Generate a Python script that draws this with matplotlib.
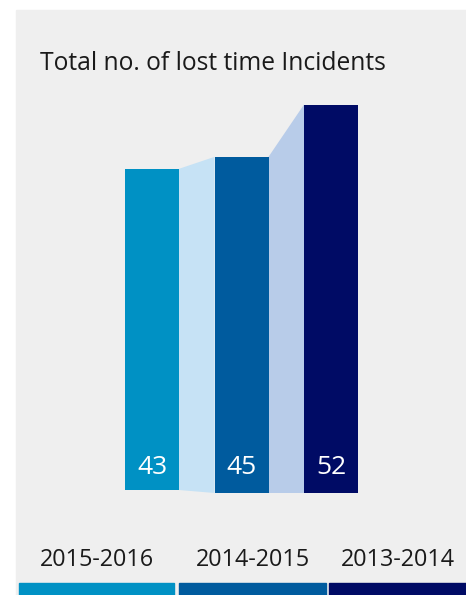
import matplotlib.pyplot as plt
from matplotlib.patches import Rectangle

# data
years = ["2015-2016", "2014-2015", "2013-2014"]
incidents = [43, 45, 52]
bases = [0.4, 0, 0]   # first bar sits a touch higher in the original

bar_colors = ["#0091c4", "#005b9e", "#000b65"]
link_colors = ["#c6e2f5", "#b8cce9"]
bg = "#efefef"

plt.rcParams['font.family'] = ['Open Sans', 'DejaVu Sans']

W, H = 466, 595
fig = plt.figure(figsize=(W / 100, H / 100), dpi=100)
fig.patch.set_facecolor("white")

# grey panel
fig.patches.append(Rectangle((16 / W, 0), 1, (H - 10) / H,
                             transform=fig.transFigure, color=bg, zorder=0))

# bar axes: centre of bar i at 152 + 89.5*i px, baseline at 493 px, 7.47 px per unit
step = 89.5
scale = 7.47
left_px = 152 - 0.5 * step
ymax = 55
ax = fig.add_axes([left_px / W, (H - 493) / H, 3 * step / W, ymax * scale / H])
ax.set_zorder(5)
ax.set_xlim(-0.5, 2.5)
ax.set_ylim(0, ymax)
ax.axis("off")

bw = 54 / step
xs = list(range(len(incidents)))
tops = [v + b for v, b in zip(incidents, bases)]
ax.bar(xs, incidents, width=bw, bottom=bases, color=bar_colors, zorder=3)

# connecting bands between neighbouring bars
for i in range(len(incidents) - 1):
    x0 = xs[i] + bw / 2
    x1 = xs[i + 1] - bw / 2
    ax.fill([x0, x1, x1, x0],
            [tops[i], tops[i + 1], bases[i + 1], bases[i]],
            color=link_colors[i], lw=0, zorder=2)

for x, v in zip(xs, incidents):
    ax.annotate(str(v), (x, 0), xytext=(0, 18.5), textcoords="offset points",
                ha="center", va="center", color="white", fontsize=19)

fig.text(40 / W, (H - 70) / H, "Total no. of lost time Incidents",
         fontsize=17.7, color="#1a1a1a", va="baseline", ha="left")

# year strips along the bottom
strips = [(19, 174), (179, 326), (329, 466)]
for (a, b), c, yr in zip(strips, bar_colors, years):
    fig.patches.append(Rectangle((a / W, 0), (b - a) / W, 12 / H,
                                 transform=fig.transFigure, color=c, zorder=1))
    fig.text((a + b) / 2 / W, (H - 566) / H, yr, fontsize=16.8,
             color="#1a1a1a", ha="center", va="baseline")

fig.savefig("out.png", dpi=100, facecolor=fig.get_facecolor())
